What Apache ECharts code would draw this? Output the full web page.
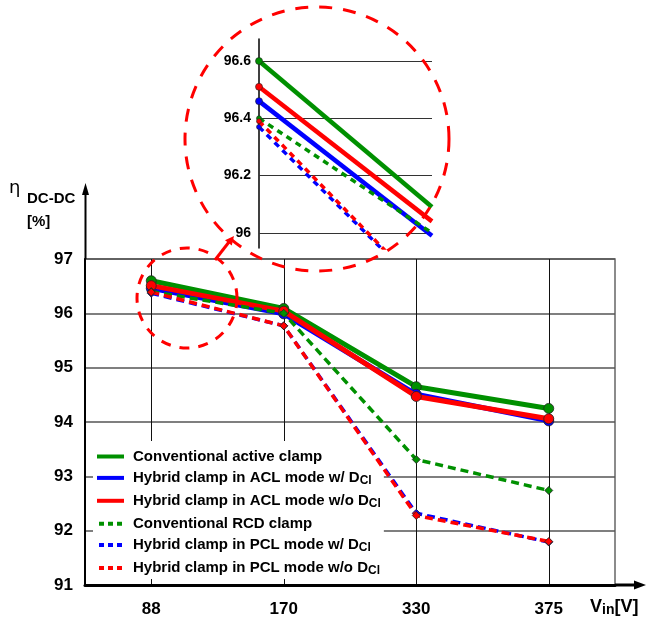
<!DOCTYPE html>
<html>
<head>
<meta charset="utf-8">
<script src="https://cdn.jsdelivr.net/npm/echarts@6/dist/echarts.min.js"></script>
<style>
  html, body { margin: 0; padding: 0; background: #fff; }
  #chart { width: 646px; height: 624px; }
</style>
</head>
<body>
<div id="chart"></div>
<script>
  // input voltage points (V)
  var categories = ['88', '170', '330', '375'];
  // efficiency values (%)
  var convActive = [96.60, 96.09, 94.65, 94.25];
  var hybridAclWith = [96.46, 95.99, 94.51, 94.02];
  var hybridAclWithout = [96.51, 96.04, 94.47, 94.06];
  var convRcd = [96.40, 96.00, 93.31, 92.74];
  var hybridPclWith = [96.37, 95.77, 92.32, 91.79];
  var hybridPclWithout = [96.39, 95.77, 92.28, 91.80];
  // zoomed inset tick labels
  var insetTicks = [96, 96.2, 96.4, 96.6];

  var names = [
    'Conventional active clamp',
    'Hybrid clamp in ACL mode w/ D_Cl',
    'Hybrid clamp in ACL mode w/o D_Cl',
    'Conventional RCD clamp',
    'Hybrid clamp in PCL mode w/ D_Cl',
    'Hybrid clamp in PCL mode w/o D_Cl'
  ];
  var values = [convActive, hybridAclWith, hybridAclWithout, convRcd, hybridPclWith, hybridPclWithout];
  var colors = ['#009000', '#0000ff', '#ff0000', '#009000', '#0000ff', '#ff0000'];
  var dashed = [false, false, false, true, true, true];

  var FONT = '"Liberation Sans", Arial, sans-serif';
  var solidIcon = 'rect';
  var dotIcon = 'path://M0,0h5v4h-5z M9,0h5v4h-5z M18,0h5v4h-5z';

  var series = [];
  // main chart
  names.forEach(function (n, i) {
    series.push({
      name: n,
      type: 'line',
      xAxisIndex: 0,
      yAxisIndex: 0,
      data: values[i],
      symbol: dashed[i] ? 'diamond' : 'circle',
      symbolSize: dashed[i] ? 8 : 10,
      itemStyle: { color: colors[i], borderColor: '#222', borderWidth: 0.8 },
      lineStyle: dashed[i] ? { width: 3.5, type: [8, 5], color: colors[i] } : { width: 5, color: colors[i] },
      z: 3 + i
    });
  });
  // inset (zoom of 88 -> 170)
  names.forEach(function (n, i) {
    var s = {
      name: n,
      type: 'line',
      xAxisIndex: 1,
      yAxisIndex: 1,
      data: [values[i][0], { value: values[i][1], symbol: 'none' }],
      symbol: 'circle',
      symbolSize: dashed[i] ? 5 : 7,
      itemStyle: { color: colors[i], borderColor: '#222', borderWidth: 0.6 },
      lineStyle: dashed[i] ? { width: 3.5, type: [6, 5], color: colors[i] } : { width: 4.5, color: colors[i] },
      z: 3 + i
    };
    if (i === 0) {
      s.markLine = {
        silent: true,
        symbol: 'none',
        label: { show: false },
        lineStyle: { color: '#333', width: 1, type: 'solid' },
        data: insetTicks.map(function (t) { return { yAxis: t }; }),
        z: 1
      };
    }
    series.push(s);
  });

  var myChart = echarts.init(document.getElementById('chart'));
  myChart.setOption({
    animation: false,
    backgroundColor: '#fff',
    textStyle: { fontFamily: FONT },
    grid: [
      { left: 85, right: 31, top: 259, bottom: 39, show: true, borderColor: '#666', borderWidth: 1.5 },
      { left: 259, top: 39, width: 173, height: 209 }
    ],
    xAxis: [
      {
        type: 'category',
        gridIndex: 0,
        data: categories,
        boundaryGap: true,
        axisLine: { lineStyle: { color: '#000', width: 3 } },
        axisTick: { show: false },
        axisLabel: { margin: 16, color: '#000', fontSize: 17, fontWeight: 'bold', fontFamily: FONT },
        splitLine: { show: true, alignWithLabel: true, lineStyle: { color: '#111', width: 1 } }
      },
      {
        type: 'category',
        gridIndex: 1,
        data: categories.slice(0, 2),
        boundaryGap: false,
        show: false
      }
    ],
    yAxis: [
      {
        type: 'value',
        gridIndex: 0,
        min: 91,
        max: 97,
        interval: 1,
        axisLine: { show: true, lineStyle: { color: '#000', width: 2 } },
        axisTick: { show: false },
        axisLabel: { margin: 12, color: '#000', fontSize: 17, fontWeight: 'bold', fontFamily: FONT },
        splitLine: { show: true, lineStyle: { color: '#555', width: 1.5 } }
      },
      {
        type: 'value',
        gridIndex: 1,
        min: 95.947,
        max: 96.677,
        axisLine: { show: true, lineStyle: { color: '#000', width: 1.5 } },
        axisTick: { show: false },
        axisLabel: {
          customValues: insetTicks,
          margin: 8,
          color: '#000',
          fontSize: 14,
          fontWeight: 'bold',
          fontFamily: FONT,
          formatter: function (v) { return String(+(+v).toFixed(1)); }
        },
        splitLine: { show: false }
      }
    ],
    legend: {
      orient: 'vertical',
      left: 93,
      top: 441,
      padding: [8, 3, 2, 4],
      backgroundColor: '#fff',
      selectedMode: false,
      itemWidth: 27,
      itemHeight: 4,
      itemGap: 6.4,
      itemStyle: { borderWidth: 0 },
      data: names.map(function (n, i) {
        return { name: n, icon: dashed[i] ? dotIcon : solidIcon };
      }),
      formatter: function (name) {
        var p = name.split('_');
        return p.length > 1 ? '{a|' + p[0] + '}{s|' + p[1] + '}' : '{a|' + name + '}';
      },
      textStyle: {
        padding: [0, 0, 0, 4],
        rich: {
          a: { fontSize: 15, fontWeight: 'bold', color: '#000', fontFamily: FONT, lineHeight: 18 },
          s: { fontSize: 12, fontWeight: 'bold', color: '#000', fontFamily: FONT, lineHeight: 10, verticalAlign: 'bottom' }
        }
      }
    },
    graphic: [
      // y axis extension with arrow
      { type: 'line', shape: { x1: 85.5, y1: 259, x2: 85.5, y2: 192 }, style: { stroke: '#000', lineWidth: 2 }, z: 10 },
      { type: 'polygon', shape: { points: [[82, 195], [89, 195], [85.5, 183]] }, style: { fill: '#000' }, z: 10 },
      // x axis extension with arrow
      { type: 'line', shape: { x1: 615, y1: 585, x2: 636, y2: 585 }, style: { stroke: '#000', lineWidth: 3 }, z: 10 },
      { type: 'polygon', shape: { points: [[634, 580.5], [634, 589.5], [646, 585]] }, style: { fill: '#000' }, z: 10 },
      // axis titles
      { type: 'text', left: 9, top: 179, style: { text: 'η', font: '18px "DejaVu Sans", sans-serif', fill: '#000' } },
      { type: 'text', left: 27, top: 191, style: { text: 'DC-DC', font: 'bold 15px ' + FONT, fill: '#000' } },
      { type: 'text', left: 27, top: 214, style: { text: '[%]', font: 'bold 15px ' + FONT, fill: '#000' } },
      {
        type: 'text', left: 590, top: 598,
        style: {
          text: '{v|V}{s|in}{v|[V]}',
          rich: {
            v: { fontSize: 18, fontWeight: 'bold', fontFamily: FONT, fill: '#000', lineHeight: 20 },
            s: { fontSize: 14, fontWeight: 'bold', fontFamily: FONT, fill: '#000', lineHeight: 12, verticalAlign: 'bottom' }
          }
        }
      },
      // dashed zoom circles and arrow
      { type: 'circle', shape: { cx: 317, cy: 139, r: 132 }, style: { fill: 'none', stroke: '#ff0000', lineWidth: 3, lineDash: [13, 11] }, z: 20 },
      { type: 'circle', shape: { cx: 187, cy: 298, r: 50 }, style: { fill: 'none', stroke: '#ff0000', lineWidth: 3, lineDash: [10, 9] }, z: 20 },
      { type: 'line', shape: { x1: 215, y1: 260, x2: 229, y2: 242 }, style: { stroke: '#ff0000', lineWidth: 3 }, z: 20 },
      { type: 'polygon', shape: { points: [[231.8, 245.6], [225, 240.2], [234, 236]] }, style: { fill: '#ff0000' }, z: 20 }
    ],
    series: series
  });
</script>
</body>
</html>
